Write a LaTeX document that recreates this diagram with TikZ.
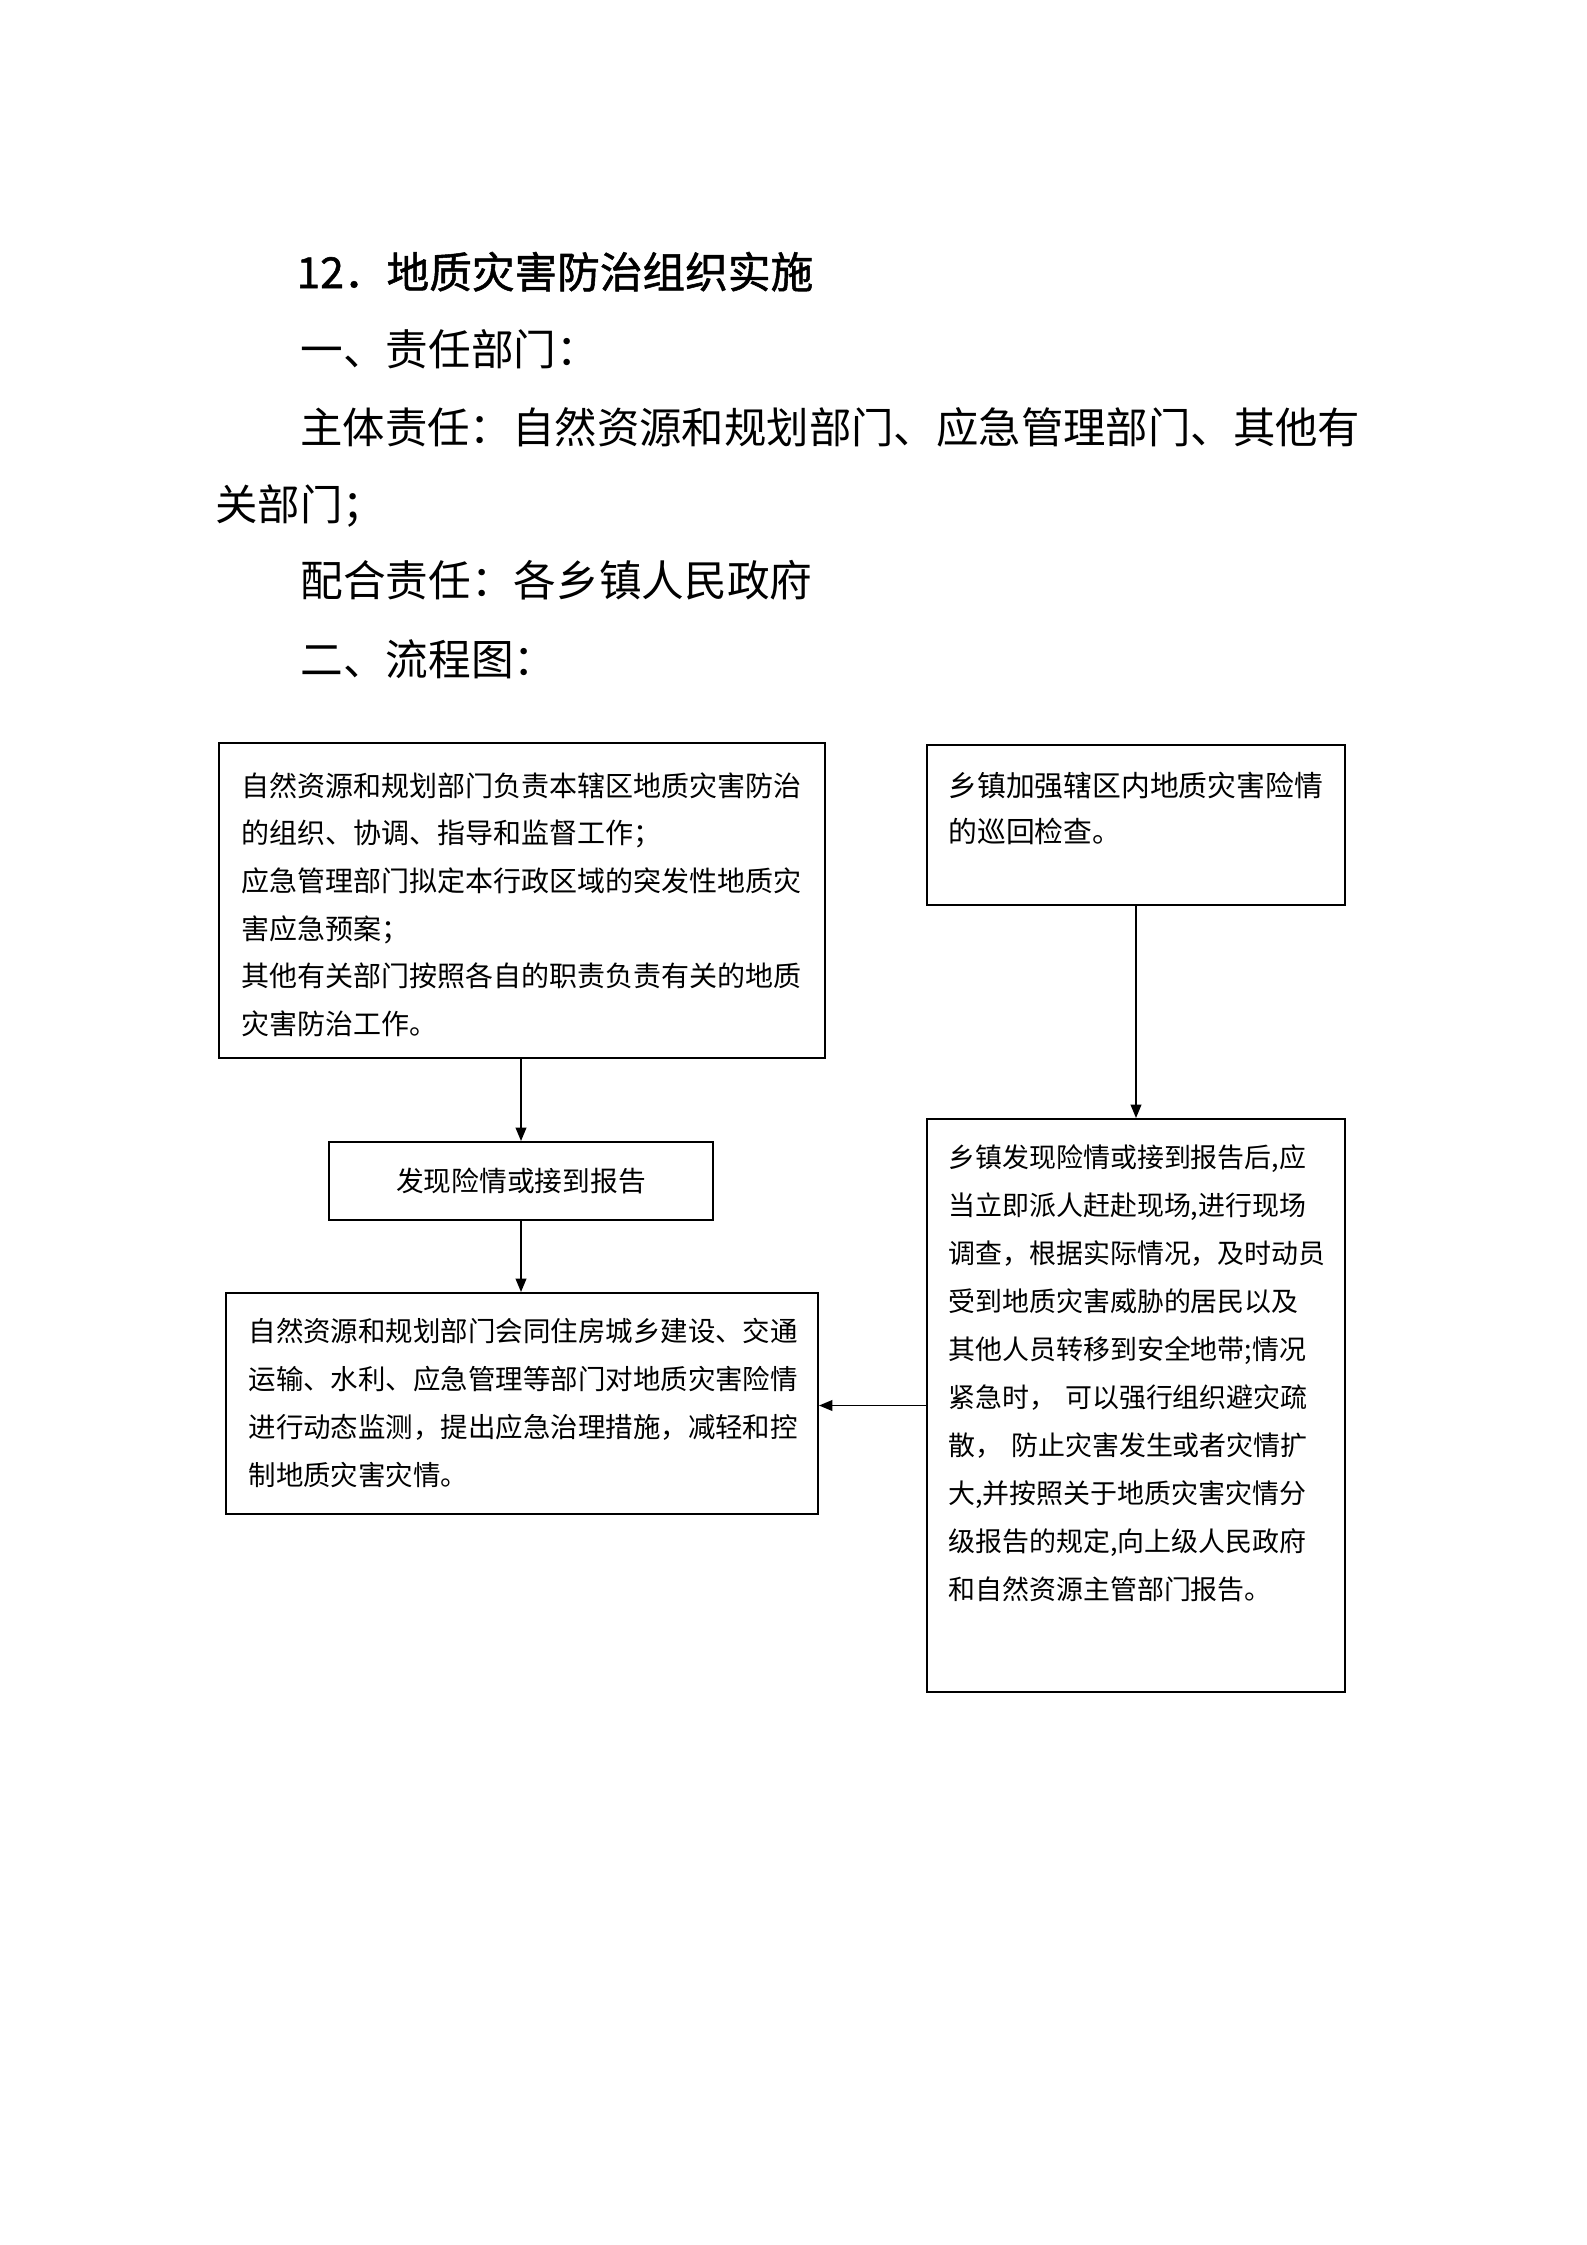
\documentclass[tikz,border=0pt]{standalone}
\usepackage{fontspec}
\setmainfont{Noto Sans CJK SC}
\newfontfamily\titlefont[FakeBold=1.2]{Noto Sans CJK SC}
\usetikzlibrary{arrows.meta,fit}
\newcommand\fsz[2]{\fontsize{#1}{#2}\selectfont}
\begin{document}
\begin{tikzpicture}[x=0.375pt,y=-0.375pt,
  box/.style={draw, line width=0.75pt, inner sep=0pt},
  txt/.style={inner sep=0pt, anchor=base west, align=left, text width=#1},
  link/.style={line width=0.6pt, -{Triangle[length=5pt,width=4pt]}}
]
\fill[white] (0,0) rectangle (1587,2245);
\useasboundingbox (0,0) rectangle (1587,2245);

% header text
\node[txt=300pt, font=\titlefont\fsz{16pt}{29pt}] (title) at (296,288) {12．地质灾害防治组织实施};
\node[txt=300pt, font=\fsz{16pt}{29pt}] (h1) at (300,365) {一、责任部门：};
\node[txt=436pt, font=\fsz{15.9pt}{28.9pt}] (h2) at (215,443) {\hspace*{2em}主体责任：自然资源和规划部门、应急管理部门、其他有\\关部门；};
\node[txt=300pt, font=\fsz{16pt}{29pt}] (h3) at (300,596) {配合责任：各乡镇人民政府};
\node[txt=300pt, font=\fsz{16pt}{29pt}] (h4) at (300,675) {二、流程图：};

% boxes
\node[box, fit={(219,743) (825,1058)}] (A) {};
\node[txt=240pt, font=\fsz{10.5pt}{17.9pt}] (At) at (241,796) {自然资源和规划部门负责本辖区地质灾害防治\\的组织、协调、指导和监督工作；\\应急管理部门拟定本行政区域的突发性地质灾\\害应急预案；\\其他有关部门按照各自的职责负责有关的地质\\灾害防治工作。};

\node[box, fit={(329,1142) (713,1220)}] (B) {};
\node[inner sep=0pt, font=\fsz{10.4pt}{14pt}] (Bt) at (B.center) {发现险情或接到报告};

\node[box, fit={(226,1293) (818,1514)}] (C) {};
\node[txt=240pt, font=\fsz{10.3pt}{18pt}] (Ct) at (248,1341) {自然资源和规划部门会同住房城乡建设、交通\\运输、水利、应急管理等部门对地质灾害险情\\进行动态监测，提出应急治理措施，减轻和控\\制地质灾害灾情。};

\node[box, fit={(927,745) (1345,905)}] (D) {};
\node[txt=170pt, font=\fsz{10.8pt}{17.3pt}] (Dt) at (948,796) {乡镇加强辖区内地质灾害险情\\的巡回检查。};

\node[box, fit={(927,1119) (1345,1692)}] (E) {};
\node[txt=170pt, font=\fsz{10.1pt}{18pt}] (Et) at (948,1167) {乡镇发现险情或接到报告后,应\\当立即派人赶赴现场,进行现场\\调查，根据实际情况，及时动员\\受到地质灾害威胁的居民以及\\其他人员转移到安全地带;情况\\紧急时， 可以强行组织避灾疏\\散， 防止灾害发生或者灾情扩\\大,并按照关于地质灾害灾情分\\级报告的规定,向上级人民政府\\和自然资源主管部门报告。};

% connectors
\draw[link] (A.south -| B.north) -- (B.north);
\draw[link] (B.south) -- (B.south |- C.north);
\draw[link] (D.south) -- (D.south |- E.north);
\draw[link] (E.west) -- (E.west -| C.east);
\end{tikzpicture}
\end{document}
